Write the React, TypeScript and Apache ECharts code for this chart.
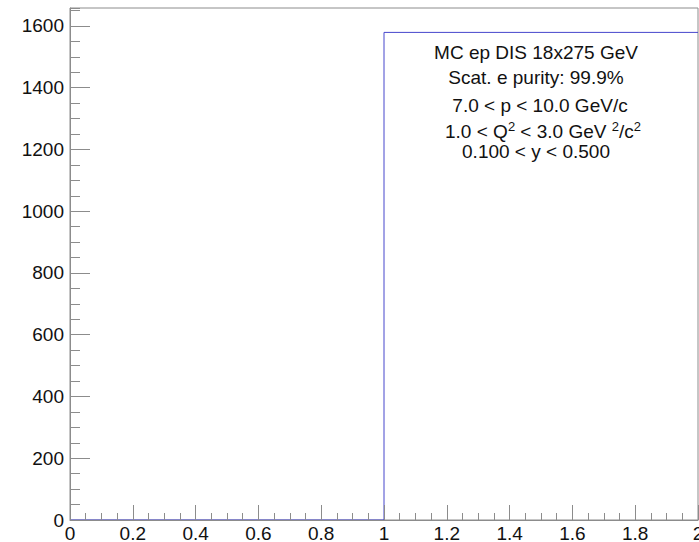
import React, { useEffect, useRef } from "react";
import * as echarts from "echarts";

// Histogram bin edges and counts
const binEdges = [0, 1, 2];
const binCounts = [0, 1579];

// Axis settings (values)
const xMin = 0;
const xMax = 2;
const xMajor = 0.2;
const yMin = 0;
const yMax = 1658;
const yMajor = 200;
const yMinor = 50;

// Annotation text lines
const infoLines = [
  "MC ep DIS 18x275 GeV",
  "Scat. e purity: 99.9%",
  "7.0 < p < 10.0 GeV/c",
  "0.100 < y < 0.500",
];

const FONT = "Liberation Sans, Arial, Helvetica, sans-serif";

export default function App() {
  const ref = useRef<HTMLDivElement>(null);
  useEffect(() => {
    if (!ref.current) return;
    const chart = echarts.init(ref.current, undefined, { renderer: "svg" });
    const histData: number[][] = [];
    for (let i = 0; i < binCounts.length; i++) {
      histData.push([binEdges[i], binCounts[i]]);
      histData.push([binEdges[i + 1], binCounts[i]]);
    }
    const axisGrey = "#8c8c8c";
    const textBase = {
      fill: "#111",
      font: `19px ${FONT}`,
      textAlign: "center",
      textVerticalAlign: "middle",
    };
    chart.setOption({
      animation: false,
      grid: {
        left: 70,
        top: 8,
        width: 628,
        height: 512,
        show: true,
        borderColor: axisGrey,
        borderWidth: 1,
        containLabel: false,
        outerBoundsMode: "none",
      },
      xAxis: {
        type: "value",
        z: 5,
        min: xMin,
        max: xMax,
        interval: xMajor,
        axisLine: { show: true, lineStyle: { color: axisGrey, width: 1 } },
        axisTick: { show: true, inside: true, length: 15, lineStyle: { color: axisGrey } },
        minorTick: { show: true, splitNumber: 4, length: 7, lineStyle: { color: axisGrey } },
        splitLine: { show: false },
        axisLabel: {
          color: "#111",
          fontSize: 19,
          lineHeight: 14,
          fontFamily: FONT,
          margin: 6,
          hideOverlap: false,
          formatter: (v: number) => String(Math.round(v * 10) / 10),
        },
      },
      yAxis: [
        {
          type: "value",
          min: yMin,
          max: yMax,
          interval: yMajor,
          axisLine: { show: true, lineStyle: { color: axisGrey, width: 1 } },
          axisTick: { show: true, inside: true, length: 20, lineStyle: { color: axisGrey } },
          splitLine: { show: false },
          axisLabel: {
            color: "#111",
            fontSize: 19,
            fontFamily: FONT,
            margin: 6,
            showMaxLabel: false,
            formatter: (v: number) => String(Math.round(v)),
          },
        },
        {
          type: "value",
          position: "left",
          min: yMin,
          max: yMax,
          interval: yMinor,
          axisLine: { show: false },
          axisTick: { show: true, inside: true, length: 10, lineStyle: { color: axisGrey } },
          splitLine: { show: false },
          axisLabel: { show: false },
        },
      ],
      series: [
        {
          type: "line",
          z: 1,
          data: histData,
          showSymbol: false,
          symbol: "none",
          lineStyle: { color: "#4646cc", width: 1 },
          yAxisIndex: 0,
        },
      ],
      graphic: [
        { type: "text", x: 536, y: 52.5, style: { ...textBase, text: infoLines[0] } },
        { type: "text", x: 536, y: 77.5, style: { ...textBase, text: infoLines[1] } },
        { type: "text", x: 540, y: 105, style: { ...textBase, text: infoLines[2] } },
        {
          type: "text",
          x: 543,
          y: 130,
          style: {
            text: "{n|1.0 < Q}{s|2}{n| < 3.0 GeV }{s|2}{n|/c}{s|2}",
            textAlign: "center",
            textVerticalAlign: "middle",
            rich: {
              n: { fontSize: 19, fontFamily: FONT, fill: "#111", lineHeight: 21, verticalAlign: "bottom" },
              s: { fontSize: 13, fontFamily: FONT, fill: "#111", lineHeight: 7, verticalAlign: "top" },
            },
          },
        },
        { type: "text", x: 536, y: 151, style: { ...textBase, lineHeight: 15, text: infoLines[3] } },
      ],
    });
    return () => chart.dispose();
  }, []);
  return (
    <div
      ref={ref}
      style={{ position: "fixed", left: 0, top: 0, width: 699, height: 542, background: "#fff" }}
    />
  );
}
